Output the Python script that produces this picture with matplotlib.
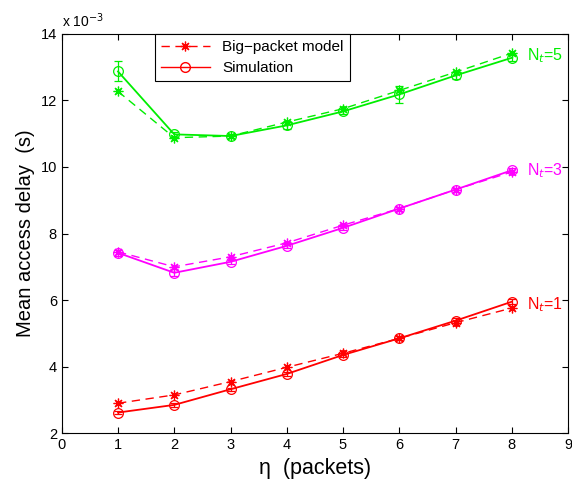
import matplotlib
matplotlib.use("Agg")
import matplotlib.pyplot as plt
import numpy as np

plt.rcParams["font.family"] = ["Liberation Sans", "DejaVu Sans"]

eta = [1, 2, 3, 4, 5, 6, 7, 8]

# values in units of 1e-3 s
sim_nt1 = [2.62, 2.85, 3.32, 3.78, 4.35, 4.85, 5.38, 5.95]
model_nt1 = [2.90, 3.15, 3.55, 3.98, 4.40, 4.85, 5.32, 5.76]
err_nt1 = [0.05, 0.05, 0.05, 0.05, 0.06, 0.06, 0.07, 0.07]

sim_nt3 = [7.42, 6.82, 7.15, 7.63, 8.17, 8.75, 9.32, 9.90]
model_nt3 = [7.45, 7.00, 7.30, 7.72, 8.25, 8.75, 9.32, 9.85]
err_nt3 = [0.10, 0.10, 0.06, 0.06, 0.06, 0.06, 0.06, 0.06]

sim_nt5 = [12.87, 10.98, 10.93, 11.25, 11.67, 12.18, 12.75, 13.28]
model_nt5 = [12.27, 10.88, 10.93, 11.35, 11.75, 12.30, 12.85, 13.42]
err_nt5 = [0.30, 0.08, 0.06, 0.12, 0.08, 0.25, 0.10, 0.08]

groups = [
    (sim_nt1, model_nt1, err_nt1, "#ff0000", "N$_t$=1"),
    (sim_nt3, model_nt3, err_nt3, "#ff00ff", "N$_t$=3"),
    (sim_nt5, model_nt5, err_nt5, "#00ee00", "N$_t$=5"),
]

ASTERISK = (8, 2, 0)

fig = plt.figure(figsize=(5.72, 4.84), dpi=100)
ax = fig.add_axes([0.108, 0.105, 0.885, 0.825])

for sim, model, err, col, lab in groups:
    ax.plot(eta, model, "--", color=col, marker=ASTERISK, markersize=7,
            markeredgewidth=0.9, linewidth=1.0, dashes=(6, 4))
    ax.errorbar(eta, sim, yerr=err, color=col, marker="o", markersize=7,
                markerfacecolor="none", markeredgewidth=0.9, linewidth=1.3,
                capsize=3, elinewidth=0.9)
    ax.text(8.27, (sim[-1] + model[-1]) / 2, lab, color=col, fontsize=11.5,
            va="center", ha="left")

# legend proxies (MATLAB legend uses the first group's colour)
h1, = ax.plot([], [], "--", color="#ff0000", marker=ASTERISK, markersize=7,
              markeredgewidth=0.9, linewidth=1.0, dashes=(6, 4))
h2, = ax.plot([], [], "-", color="#ff0000", marker="o", markersize=7,
              markerfacecolor="none", linewidth=1.0)
leg = ax.legend([h1, h2], ["Big\u2212packet model", "Simulation"],
                loc="upper left", bbox_to_anchor=(0.184, 1.0), fontsize=11,
                fancybox=False, edgecolor="black", framealpha=1,
                handlelength=3.2, borderaxespad=0, labelspacing=0.45,
                borderpad=0.4)
leg.get_frame().set_linewidth(0.8)

ax.set_xlim(0, 9)
ax.set_ylim(2, 14)
ax.set_xticks(range(0, 10))
ax.set_yticks(range(2, 15, 2))
ax.tick_params(direction="in", top=True, right=True, labelsize=10.5, length=4)
for s in ax.spines.values():
    s.set_linewidth(0.8)

ax.set_xlabel("\u03b7  (packets)", fontsize=15.5)
ax.set_ylabel("Mean access delay  (s)", fontsize=14.5)
ax.text(0, 1.01, "x 10$^{-3}$", transform=ax.transAxes, fontsize=10,
        va="bottom", ha="left")

fig.savefig("out.png", dpi=100)
